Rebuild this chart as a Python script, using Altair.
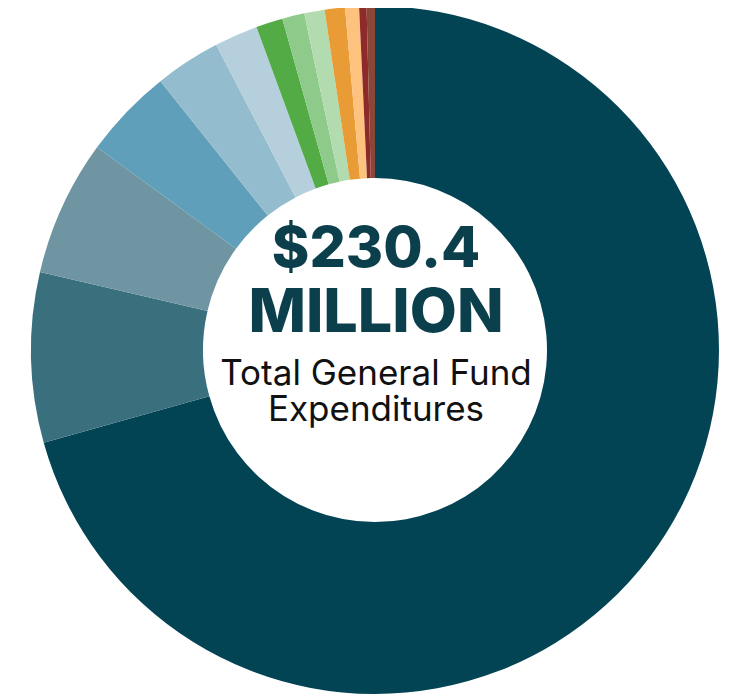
import altair as alt
import pandas as pd

categories = [
    "Segment 1", "Segment 2", "Segment 3", "Segment 4", "Segment 5",
    "Segment 6", "Segment 7", "Segment 8", "Segment 9", "Segment 10",
    "Segment 11", "Segment 12", "Segment 13",
]
values = [162.8, 18.4, 14.7, 9.8, 7.1, 4.7, 2.9, 2.4, 2.2, 2.2, 1.5, 0.8, 0.9]
colors = [
    "#034454", "#3a707e", "#7095a2", "#5f9fb9", "#93bccf", "#b5d0dc",
    "#52ab44", "#8ecb8a", "#b3dbb0", "#e99c36", "#fdc27e", "#8f2a2a", "#8a4636",
]
title_lines = ["$230.4", "MILLION"]
sub_lines = ["Total General Fund", "Expenditures"]

df = pd.DataFrame({"category": categories, "value": values, "idx": list(range(len(values)))})

W, H = 720, 688
CX, CY = 367, 342

donut = alt.Chart(df).mark_arc(outerRadius=344, innerRadius=172, strokeWidth=0).encode(
    x=alt.value(CX),
    y=alt.value(CY),
    theta=alt.Theta("value:Q", stack=True),
    order=alt.Order("idx:Q"),
    color=alt.Color("category:N", scale=alt.Scale(domain=categories, range=colors), legend=None),
)

def txt(s, y, size, weight, color, font):
    return alt.Chart(df.head(1)).mark_text(
        text=s, align="center", baseline="alphabetic", fontSize=size,
        fontWeight=weight, color=color, font=font,
    ).encode(x=alt.value(CX + 1), y=alt.value(y))

layers = [
    donut,
    txt(title_lines[0], 259, 57, 800, "#0b3f4c", "Inter"),
    txt(title_lines[1], 324, 61, 800, "#0b3f4c", "Inter"),
    txt(sub_lines[0], 377, 35, 400, "#111111", "Inter"),
    txt(sub_lines[1], 413, 35, 400, "#111111", "Inter"),
]

chart = alt.layer(*layers).properties(
    width=W, height=H, padding=0, autosize=alt.AutoSizeParams(type="none"),
).configure_view(stroke=None)

chart.save("out.html", embed_options={"renderer": "svg", "actions": False})
